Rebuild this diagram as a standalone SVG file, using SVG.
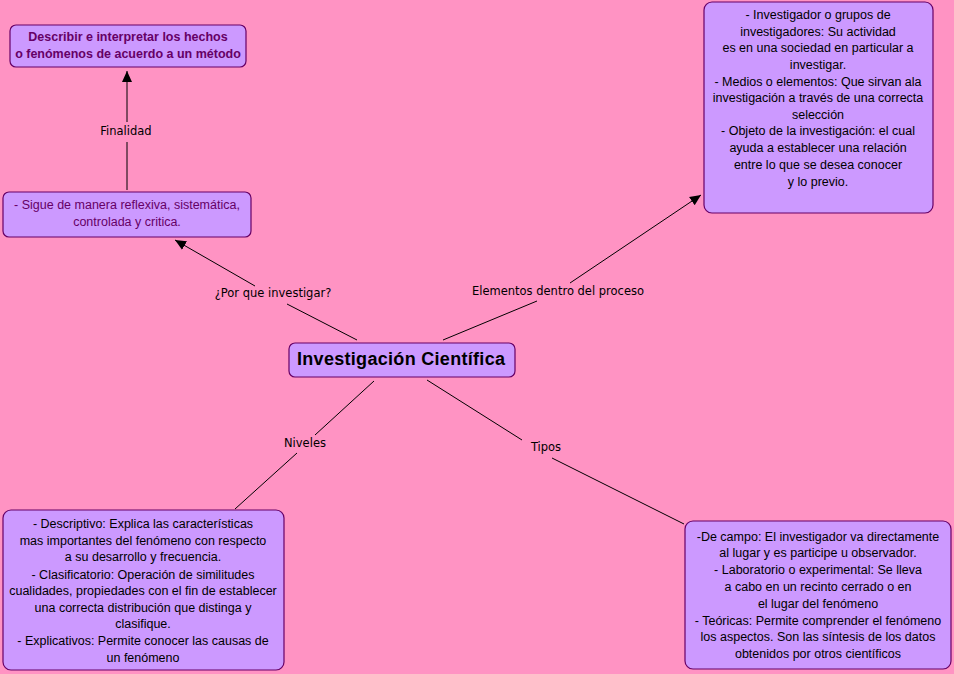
<svg xmlns="http://www.w3.org/2000/svg" width="954" height="674" viewBox="0 0 954 674">
<defs>
<marker id="arr" markerWidth="12" markerHeight="12" refX="11" refY="6" orient="auto" markerUnits="userSpaceOnUse">
<path d="M0,1 L11,6 L0,11 z" fill="#000"/>
</marker>
<style>
.node rect{fill:#CC99FF;stroke:#660066;stroke-width:1.2}
.t{font-family:"Liberation Sans","DejaVu Sans",sans-serif;font-size:12.5px;fill:#000;text-anchor:middle}
.p{fill:#660066}
.lbl{font-family:"DejaVu Sans","Liberation Sans",sans-serif;font-size:11.5px;fill:#000;text-anchor:middle}
.c line{stroke:#000;stroke-width:1}
</style>
</defs>
<rect width="954" height="674" fill="#FF93C3"/>
<g class="c" id="connectors">
<line x1="127" y1="190" x2="127" y2="142"/>
<line x1="127" y1="122" x2="127" y2="71" marker-end="url(#arr)"/>
<line x1="357" y1="340" x2="287" y2="304"/>
<line x1="255" y1="286" x2="175" y2="240" marker-end="url(#arr)"/>
<line x1="443" y1="340" x2="537" y2="301"/>
<line x1="570" y1="283" x2="701" y2="195" marker-end="url(#arr)"/>
<line x1="374" y1="381" x2="315" y2="435"/>
<line x1="297" y1="453" x2="235" y2="509"/>
<line x1="427" y1="380" x2="522" y2="440"/>
<line x1="552" y1="458" x2="684" y2="524"/>
</g>
<g id="labels">
<text class="lbl" x="126" y="135">Finalidad</text>
<text class="lbl" x="273" y="297">¿Por que investigar?</text>
<text class="lbl" x="558" y="295">Elementos dentro del proceso</text>
<text class="lbl" x="305" y="447">Niveles</text>
<text class="lbl" x="546" y="451">Tipos</text>
</g>
<g id="n-describir" class="node">
<rect x="10" y="25" width="236" height="42" rx="6"/>
<text class="t p" font-weight="bold" x="128" y="41">Describir e interpretar los hechos</text>
<text class="t p" font-weight="bold" x="128" y="58">o fenómenos de acuerdo a un método</text>
</g>
<g id="n-sigue" class="node">
<rect x="3" y="192" width="248" height="45" rx="6"/>
<text class="t p" x="127" y="209">- Sigue de manera reflexiva, sistemática,</text>
<text class="t p" x="127" y="226">controlada y critica.</text>
</g>
<g id="n-elementos" class="node">
<rect x="704" y="2" width="229" height="211" rx="8"/>
<text class="t" x="818" y="19">- Investigador o grupos de</text>
<text class="t" x="818" y="36">investigadores: Su actividad</text>
<text class="t" x="818" y="52">es en una sociedad en particular a</text>
<text class="t" x="818" y="69">investigar.</text>
<text class="t" x="818" y="86">- Medios o elementos: Que sirvan ala</text>
<text class="t" x="818" y="102">investigación a través de una correcta</text>
<text class="t" x="818" y="119">selección</text>
<text class="t" x="818" y="135">- Objeto de la investigación: el cual</text>
<text class="t" x="818" y="152">ayuda a establecer una relación</text>
<text class="t" x="818" y="169">entre lo que se desea conocer</text>
<text class="t" x="818" y="186">y lo previo.</text>
</g>
<g id="n-central" class="node">
<rect x="289" y="343" width="226" height="34" rx="6"/>
<text x="297" y="365" font-family="'Liberation Sans','DejaVu Sans',sans-serif" font-size="18" letter-spacing="0.3" font-weight="bold" fill="#000">Investigación Científica</text>
</g>
<g id="n-niveles" class="node">
<rect x="3" y="510" width="281" height="160" rx="8"/>
<text class="t" x="143" y="528">- Descriptivo: Explica las características</text>
<text class="t" x="143" y="545">mas importantes del fenómeno con respecto</text>
<text class="t" x="143" y="561">a su desarrollo y frecuencia.</text>
<text class="t" x="143" y="579">- Clasificatorio: Operación de similitudes</text>
<text class="t" x="143" y="595">cualidades, propiedades con el fin de establecer</text>
<text class="t" x="143" y="612">una correcta distribución que distinga y</text>
<text class="t" x="143" y="628">clasifique.</text>
<text class="t" x="143" y="645">- Explicativos: Permite conocer las causas de</text>
<text class="t" x="143" y="662">un fenómeno</text>
</g>
<g id="n-tipos" class="node">
<rect x="685" y="521" width="266" height="148" rx="8"/>
<text class="t" x="818" y="541">-De campo: El investigador va directamente</text>
<text class="t" x="818" y="557">al lugar y es participe u observador.</text>
<text class="t" x="818" y="574">- Laboratorio o experimental: Se lleva</text>
<text class="t" x="818" y="591">a cabo en un recinto cerrado o en</text>
<text class="t" x="818" y="608">el lugar del fenómeno</text>
<text class="t" x="818" y="625">- Teóricas: Permite comprender el fenómeno</text>
<text class="t" x="818" y="641">los aspectos. Son las síntesis de los datos</text>
<text class="t" x="818" y="658">obtenidos por otros científicos</text>
</g>
</svg>
